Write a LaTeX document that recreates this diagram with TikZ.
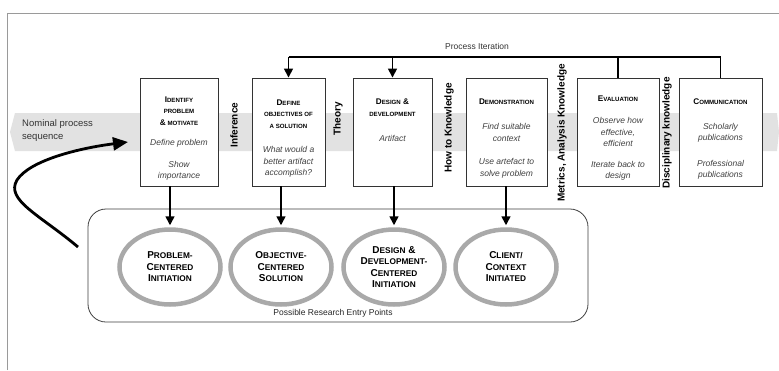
\documentclass[tikz,border=0pt]{standalone}
\usepackage{fontspec}
\setmainfont{Liberation Sans}
\usetikzlibrary{arrows.meta,shapes.geometric}
\definecolor{bandgray}{HTML}{E2E2E2}
\definecolor{ringgray}{HTML}{A9A9A9}
\definecolor{framegray}{HTML}{9A9A9A}
\definecolor{descgray}{HTML}{404040}
\newcommand\mysc[2]{{\fontsize{8.2}{11.5}\selectfont #1}{\fontsize{6.1}{11.5}\selectfont #2}}
\newcommand\myel[2]{{\fontsize{10}{11.5}\selectfont #1}{\fontsize{8.3}{11.5}\selectfont #2}}
\begin{document}
\begin{tikzpicture}[x=1pt,y=-1pt,
 stepbox/.style={draw=black!80, line width=0.9pt, fill=white, minimum height=108pt, inner sep=0pt},
 ttl/.style={font=\bfseries\fontsize{8.2}{11.5}\selectfont, align=center, inner sep=0pt},
 dsc/.style={font=\itshape\fontsize{8.5}{11.5}\selectfont, text=descgray, align=center, inner sep=0pt},
 vlab/.style={font=\bfseries\fontsize{10}{12}\selectfont, rotate=90, inner sep=0pt},
 entry/.style={ellipse, draw=ringgray, line width=4.5pt, fill=white, minimum width=101pt, minimum height=75pt, inner sep=0pt, font=\bfseries\fontsize{10}{11.5}\selectfont, align=center},
 conn/.style={line width=1.6pt, -{Triangle[length=9pt,width=9pt]}},
 iterline/.style={line width=1.2pt},
]
\useasboundingbox (0,0) rectangle (779,370);
\fill[white] (0,0) rectangle (779,370);
% frame
\draw[framegray, line width=0.8pt] (7,370) -- (7,13) -- (779,13);
% band
\fill[bandgray] (15,113) -- (10,132) -- (15,151) -- (777,151) -- (779,132) -- (777,113) -- cycle;
\node[anchor=north west, align=left, font=\fontsize{9.5}{13}\selectfont, text=black!80, inner sep=0pt] (nom) at (22,119) {Nominal process\\sequence};
% entry panel
\node[draw=black!75, line width=0.8pt, rounded corners=18pt, minimum width=500pt, minimum height=113pt, inner sep=0pt] (rpanel) at (338,265.5) {};
\node[font=\fontsize{8.5}{10}\selectfont, text=black!85, inner sep=0pt] (rlab) at (333,313) {Possible Research Entry Points};
% boxes
\node[stepbox, minimum width=78pt] (b1) at (179,132) {};
\node[stepbox, minimum width=73pt] (b2) at (288.5,132) {};
\node[stepbox, minimum width=79pt] (b3) at (392.5,132) {};
\node[stepbox, minimum width=81pt] (b4) at (506.5,132) {};
\node[stepbox, minimum width=82pt] (b5) at (618,132) {};
\node[stepbox, minimum width=83pt] (b6) at (720.5,132) {};
% box texts
\node[ttl] (t1) at (179,111) {\mysc{I}{DENTIFY}\\\mysc{}{PROBLEM}\\\mysc{\&}{ MOTIVATE}};
\node[dsc] (d1a) at (179,143) {Define problem};
\node[dsc] (d1b) at (179,171) {Show\\importance};
\node[ttl] (t2) at (288.5,114) {\mysc{D}{EFINE}\\\mysc{}{OBJECTIVES OF}\\\mysc{}{A SOLUTION}};
\node[dsc] (d2) at (288.5,162) {What would a\\better artifact\\accomplish?};
\node[ttl] (t3) at (392.5,107.5) {\mysc{D}{ESIGN} \mysc{\&}{}\\\mysc{}{DEVELOPMENT}};
\node[dsc] (d3) at (392.5,138) {Artifact};
\node[ttl] (t4) at (506.5,102) {\mysc{D}{EMONSTRATION}};
\node[dsc] (d4a) at (506.5,132.5) {Find suitable\\context};
\node[dsc] (d4b) at (506.5,168.5) {Use artefact to\\solve problem};
\node[ttl] (t5) at (618,99) {\mysc{E}{VALUATION}};
\node[dsc] (d5a) at (618,132) {Observe how\\effective,\\efficient};
\node[dsc] (d5b) at (618,171) {Iterate back to\\design};
\node[ttl] (t6) at (720.5,102) {\mysc{C}{OMMUNICATION}};
\node[dsc] (d6a) at (720.5,133) {Scholarly\\publications};
\node[dsc] (d6b) at (720.5,170) {Professional\\publications};
% vertical labels
\node[vlab] (v1) at (234,125) {Inference};
\node[vlab] (v2) at (338,119) {Theory};
\node[vlab] (v3) at (449,128) {How to Knowledge};
\node[vlab] (v4) at (562,133) {Metrics, Analysis Knowledge};
\node[vlab] (v5) at (667,133) {Disciplinary knowledge};
% process iteration
\coordinate (pit) at (0,57);
\node[font=\fontsize{8.5}{10}\selectfont, text=black!80, inner sep=0pt] (pilab) at (477,46) {Process Iteration};
\draw[iterline] (b2.north |- pit) -- (b6.north |- pit);
\draw[conn] (b2.north |- pit) -- (b2.north);
\draw[conn] (b3.north |- pit) -- (b3.north);
\draw[iterline] (b5.north |- pit) -- (b5.north);
\draw[iterline] (b6.north |- pit) -- (b6.north);
% entry ellipses
\node[entry] (e1) at (170,267) {\myel{P}{ROBLEM-}\\\myel{C}{ENTERED}\\\myel{I}{NITIATION}};
\node[entry] (e2) at (281,267) {\myel{O}{BJECTIVE-}\\\myel{C}{ENTERED}\\\myel{S}{OLUTION}};
\node[entry] (e3) at (394,267) {\myel{D}{ESIGN} \myel{\&}{}\\\myel{D}{EVELOPMENT-}\\\myel{C}{ENTERED}\\\myel{I}{NITIATION}};
\node[entry] (e4) at (506,267) {\myel{C}{LIENT/}\\\myel{C}{ONTEXT}\\\myel{I}{NITIATED}};
% box to ellipse arrows
\draw[conn, shorten >=2pt] (e1.north |- b1.south) -- (e1.north);
\draw[conn, shorten >=2pt] (e2.north |- b2.south) -- (e2.north);
\draw[conn, shorten >=2pt] (e3.north |- b3.south) -- (e3.north);
\draw[conn, shorten >=2pt] (e4.north |- b4.south) -- (e4.north);
% curved entry arrow
\coordinate (cs) at (78,247);
\coordinate (ce) at (128,142);
\draw[line width=2.8pt, -{Triangle[length=15pt,width=13pt]}] (cs) .. controls (40,215) and (5,200) .. (17,180) .. controls (30,160) and (80,148) .. (ce);
\end{tikzpicture}
\end{document}
